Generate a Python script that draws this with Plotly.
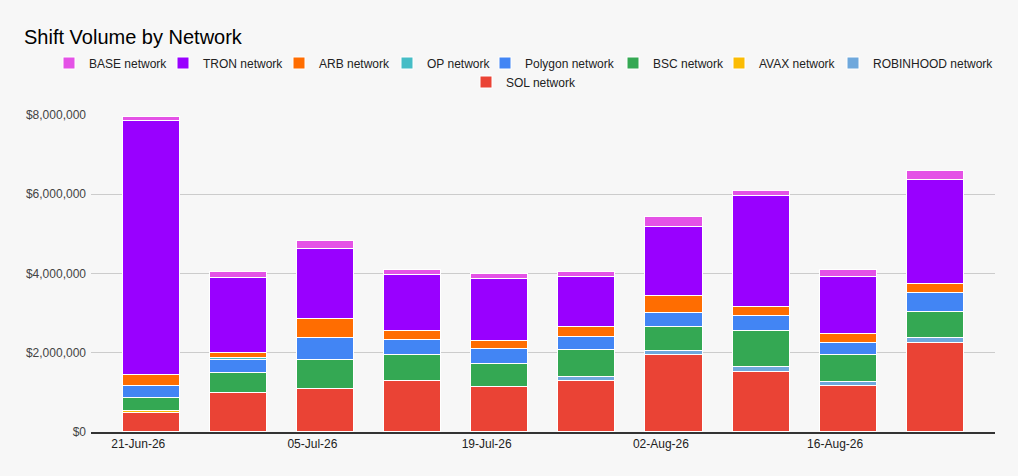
import plotly.graph_objects as go

weeks = ["21-Jun-26", "28-Jun-26", "05-Jul-26", "12-Jul-26", "19-Jul-26",
         "26-Jul-26", "02-Aug-26", "09-Aug-26", "16-Aug-26", "23-Aug-26"]

sol       = [480000, 980000, 1080000, 1290000, 1140000, 1290000, 1940000, 1510000, 1160000, 2250000]
robinhood = [0, 0, 0, 0, 0, 100000, 100000, 130000, 100000, 120000]
avax      = [40000, 0, 0, 0, 0, 0, 0, 0, 0, 0]
bsc       = [330000, 510000, 740000, 650000, 580000, 680000, 610000, 910000, 680000, 670000]
polygon   = [300000, 330000, 550000, 380000, 370000, 330000, 350000, 380000, 310000, 470000]
op        = [0, 40000, 0, 0, 0, 0, 0, 0, 0, 0]
arb       = [290000, 130000, 470000, 230000, 200000, 250000, 430000, 220000, 220000, 230000]
tron      = [6400000, 1890000, 1770000, 1410000, 1570000, 1260000, 1740000, 2800000, 1440000, 2620000]
base      = [120000, 170000, 200000, 140000, 120000, 140000, 250000, 120000, 190000, 220000]

# stacking order bottom -> top
series = [
    ("SOL network", sol, "#EA4335"),
    ("ROBINHOOD network", robinhood, "#6FA8DC"),
    ("AVAX network", avax, "#FBBC04"),
    ("BSC network", bsc, "#34A853"),
    ("Polygon network", polygon, "#4285F4"),
    ("OP network", op, "#46BDC6"),
    ("ARB network", arb, "#FF6D01"),
    ("TRON network", tron, "#9900FF"),
    ("BASE network", base, "#E452E6"),
]

# legend placement (text start x, row centre y) in page pixels
legend_pos = {
    "BASE network": (91, 63), "TRON network": (205, 63), "ARB network": (321, 63),
    "OP network": (429, 63), "Polygon network": (527, 63), "BSC network": (655, 63),
    "AVAX network": (761, 63), "ROBINHOOD network": (875, 63), "SOL network": (508, 82),
}

W, H = 1018, 476
FONT = "Liberation Sans, Arial, sans-serif"
xpos = list(range(len(weeks)))

fig = go.Figure()
legend_layout = {}
for i, (name, vals, color) in enumerate(series):
    key = f"legend{i + 2}"
    fig.add_trace(go.Bar(
        x=xpos, y=vals, name=name,
        marker=dict(color=color, line=dict(color="white", width=1)),
        width=0.655,
        legend=key,
        hovertemplate="%{y:$,.0f}<extra>" + name + "</extra>",
    ))
    tx, ty = legend_pos[name]
    legend_layout[key] = dict(
        orientation="h", xref="container", yref="container", visible=True,
        x=(tx - 42) / W, xanchor="left", y=1 - ty / H, yanchor="middle",
        font=dict(size=12, color="#222222", family=FONT),
        bgcolor="rgba(0,0,0,0)", itemwidth=30,
    )

fig.update_layout(
    width=W, height=H,
    barmode="stack",
    showlegend=True,
    paper_bgcolor="#F7F7F7", plot_bgcolor="#F7F7F7",
    font=dict(family=FONT, size=12, color="#222222"),
    margin=dict(l=91, r=23, t=115, b=44),
    title=dict(text="Shift Volume by Network", x=24 / W, xref="container", xanchor="left",
               y=1 - 37 / H, yref="container", yanchor="middle",
               font=dict(size=20, color="#000000", family=FONT)),
    bargap=0,
    **legend_layout,
)
fig.update_xaxes(
    range=[-0.692, 9.685],
    tickvals=[i - 0.15 for i in xpos[::2]], ticktext=weeks[::2],
    showgrid=False, showline=True, linecolor="#333333", linewidth=1.5,
    ticks="", tickfont=dict(size=12, color="#222222"), zeroline=False,
)
fig.update_yaxes(
    range=[0, 8000000], tickvals=[0, 2000000, 4000000, 6000000, 8000000],
    tickformat="$,.0f", showgrid=True, gridcolor="#CCCCCC", gridwidth=1,
    zeroline=False, ticks="", ticklabelstandoff=4,
    tickfont=dict(size=12, color="#444444"),
)

fig.write_html("out.html", config={"displayModeBar": False},
               post_script="document.body.style.margin='0';")
